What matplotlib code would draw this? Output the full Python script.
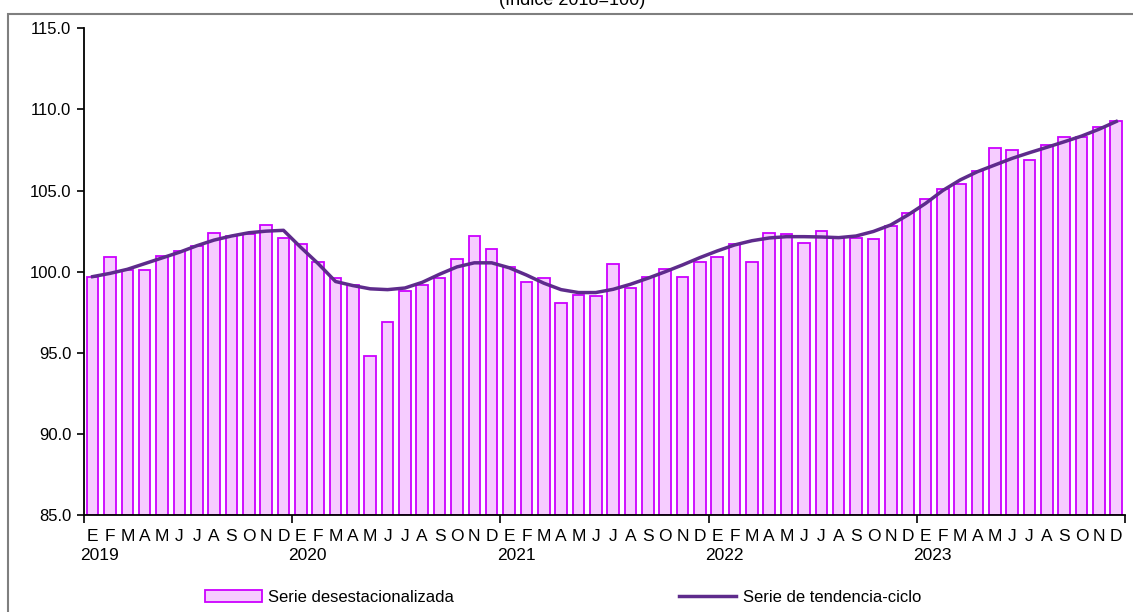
import numpy as np
import matplotlib
matplotlib.use('Agg')
import matplotlib.pyplot as plt
from matplotlib.patches import Rectangle
from matplotlib.lines import Line2D
from matplotlib.patches import Patch
import matplotlib.transforms as mtransforms

plt.rcParams['font.family'] = ['Liberation Sans', 'DejaVu Sans']

# Datos: serie mensual 2019-2023 (Índice 2018=100)
years = ['2019', '2020', '2021', '2022', '2023']
months = ['E', 'F', 'M', 'A', 'M', 'J', 'J', 'A', 'S', 'O', 'N', 'D']

desestacionalizada = [
    99.7, 100.9, 100.1, 100.1, 101.0, 101.3, 101.6, 102.4, 102.2, 102.3, 102.9, 102.1,
    101.7, 100.6, 99.6, 99.2, 94.8, 96.9, 98.8, 99.2, 99.6, 100.8, 102.2, 101.4,
    100.3, 99.4, 99.6, 98.1, 98.6, 98.5, 100.5, 99.0, 99.7, 100.2, 99.7, 100.6,
    100.9, 101.7, 100.6, 102.4, 102.3, 101.8, 102.5, 102.1, 102.1, 102.0, 102.8, 103.6,
    104.5, 105.1, 105.4, 106.2, 107.6, 107.5, 106.9, 107.8, 108.3, 108.3, 108.9, 109.3,
]

tendencia = [
    99.7, 99.9, 100.15, 100.5, 100.85, 101.2, 101.6, 101.95, 102.2, 102.4, 102.5, 102.55,
    101.5, 100.5, 99.4, 99.15, 98.95, 98.9, 99.0, 99.35, 99.85, 100.3, 100.55, 100.55,
    100.25, 99.8, 99.3, 98.9, 98.72, 98.72, 98.92, 99.23, 99.6, 100.0, 100.42, 100.87,
    101.28, 101.65, 101.91, 102.08, 102.16, 102.16, 102.14, 102.1, 102.2, 102.48, 102.88, 103.5,
    104.2, 105.0, 105.65, 106.16, 106.57, 106.98, 107.33, 107.66, 108.0, 108.35, 108.77, 109.25,
]

bar_face = '#F6CCFF'
bar_edge = '#CC00FF'
line_color = '#5E2B8C'

fig = plt.figure(figsize=(11.33, 6.12), dpi=100)
ax = fig.add_axes([0.0741, 0.1577, 0.9188, 0.7965])

x = np.arange(len(desestacionalizada))
ax.bar(x, np.array(desestacionalizada) - 85, bottom=85, width=0.67,
       color=bar_face, edgecolor=bar_edge, linewidth=1.3, zorder=2)
ax.plot(x, tendencia, color=line_color, linewidth=2.5, zorder=3)

ax.set_xlim(-0.5, len(x) - 0.5)
ax.set_ylim(85, 115)
ax.set_yticks(np.arange(85, 115.1, 5))
ax.set_yticklabels([f'{v:.1f}' for v in np.arange(85, 115.1, 5)], fontsize=12)
ax.tick_params(axis='y', direction='out', length=5, width=1.2, pad=4)

for s in ['top', 'right']:
    ax.spines[s].set_visible(False)
for s in ['left', 'bottom']:
    ax.spines[s].set_linewidth(1.3)
    ax.spines[s].set_color('black')

# ticks en los cortes de año, etiquetas de mes como minor ticks
ax.set_xticks(np.arange(-0.5, len(x), 12))
ax.set_xticklabels([])
ax.tick_params(axis='x', which='major', direction='out', length=6, width=1.2)
ax.set_xticks(x, minor=True)
ax.set_xticklabels(months * len(years), minor=True, fontsize=12.5)
ax.tick_params(axis='x', which='minor', length=0, pad=10)

trans = mtransforms.blended_transform_factory(ax.transData, ax.transAxes)
for k, yr in enumerate(years):
    ax.text(k * 12 + 0.4, -0.083, yr, transform=trans, ha='center', va='center', fontsize=12.5)

# título cortado arriba
fig.text(0.505, 1 - 5 / 612, '(Índice 2018=100)', ha='center', va='baseline', fontsize=13)

# marco exterior
fig.patches.append(Rectangle((8 / 1133, -0.05), 1.2, 1 - 14 / 612 + 0.05,
                             transform=fig.transFigure, fill=False,
                             edgecolor='#7F7F7F', linewidth=1.5))

handles = [Patch(facecolor=bar_face, edgecolor=bar_edge, linewidth=1.3),
           Line2D([0], [0], color=line_color, linewidth=2.5)]
fig.legend(handles, ['Serie desestacionalizada', 'Serie de tendencia-ciclo'],
           loc='center', bbox_to_anchor=(0.497, 0.024), ncol=2, frameon=False,
           fontsize=12, handlelength=3.4, handleheight=0.8, columnspacing=13.5,
           handletextpad=0.4)

fig.savefig('out.png', dpi=100)
